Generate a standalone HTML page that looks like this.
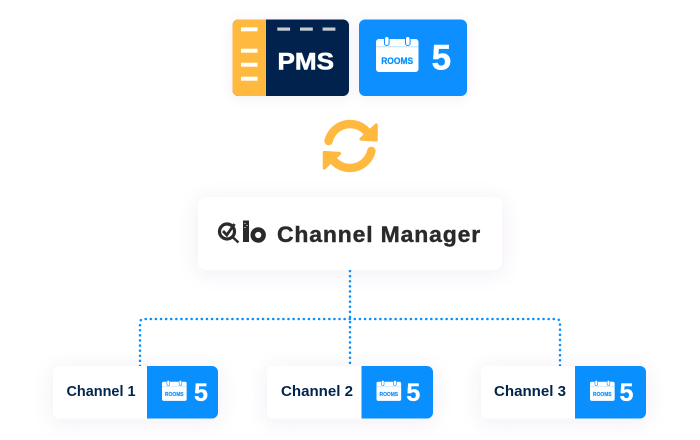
<!DOCTYPE html>
<html>
<head>
<meta charset="utf-8">
<style>
html,body{margin:0;padding:0;background:#fff;width:700px;height:440px;overflow:hidden}
svg{display:block}
text{font-family:"Liberation Sans",sans-serif;font-weight:700}
</style>
</head>
<body>
<svg width="700" height="440" viewBox="0 0 700 440" xmlns="http://www.w3.org/2000/svg">
<defs>
<filter id="s" x="-30%" y="-60%" width="160%" height="220%"><feDropShadow dx="0" dy="3" stdDeviation="10" flood-color="#5a3a6a" flood-opacity=".08"/></filter>
<filter id="s2" x="-30%" y="-30%" width="160%" height="160%"><feDropShadow dx="0" dy="2" stdDeviation="6" flood-color="#5a3a6a" flood-opacity=".07"/></filter>
<g id="cal">
<rect x="0" y="3" width="42.500" height="33" rx="3" fill="#fff"/>
<rect x="8.500" y="0.500" width="4.600" height="9" rx="2.300" fill="#fff" stroke="#0a8fff" stroke-width="1"/>
<rect x="29.500" y="0.500" width="4.600" height="9" rx="2.300" fill="#fff" stroke="#0a8fff" stroke-width="1"/>
<rect x="0" y="10.500" width="42.500" height=".7" fill="#0a8fff" opacity=".4"/>
<text x="21.200" y="27.800" font-size="9.500" text-anchor="middle" fill="#0a8fff" stroke="#0a8fff" stroke-width=".25" textLength="32" lengthAdjust="spacingAndGlyphs">ROOMS</text>
</g>
</defs>

<!-- PMS -->
<g filter="url(#s2)">
<rect x="232.500" y="19.500" width="116.500" height="76.500" rx="6" fill="#00244d"/>
</g>
<path d="M266 19.500H238.500a6 6 0 0 0-6 6V90a6 6 0 0 0 6 6H266z" fill="#ffb93e"/>
<g fill="#fff">
<rect x="241" y="27.300" width="16.500" height="4"/>
<rect x="241" y="48.700" width="16.500" height="4"/>
<rect x="241" y="62.700" width="16.500" height="4"/>
<rect x="241" y="76.700" width="16.500" height="4"/>
</g>
<g fill="#c6ccd4">
<rect x="277.300" y="27.500" width="12.800" height="3.200"/>
<rect x="300" y="27.500" width="12.800" height="3.200"/>
<rect x="322.600" y="27.500" width="12.800" height="3.200"/>
</g>
<text x="277.500" y="69.300" font-size="24" fill="#fff" stroke="#fff" stroke-width=".6" textLength="56.500" lengthAdjust="spacingAndGlyphs">PMS</text>

<!-- Rooms top -->
<g filter="url(#s2)"><rect x="359" y="19.500" width="108" height="76.500" rx="6" fill="#0a8fff"/></g>
<use href="#cal" x="376" y="36"/>
<text x="441.300" y="69.300" font-size="35" fill="#fff" stroke="#fff" stroke-width=".5" text-anchor="middle">5</text>

<!-- Sync icon -->
<g fill="none" stroke="#ffb93e" stroke-width="8.500" stroke-linecap="round">
<path d="M328.600 141A22 22 0 0 1 367 132"/>
<path d="M371.400 151A22 22 0 0 1 333 160"/>
</g>
<path d="M376.200 125V140L361 139z" fill="#ffb93e" stroke="#ffb93e" stroke-width="3.200" stroke-linejoin="round"/>
<path d="M324.300 168V152.500L339.500 153.500z" fill="#ffb93e" stroke="#ffb93e" stroke-width="3.200" stroke-linejoin="round"/>

<!-- Connectors -->
<g fill="none" stroke="#0a8fff" stroke-width="2.500" stroke-dasharray="0.1 5" stroke-linecap="round">
<path d="M350 271V366"/>
<path d="M140 366V323Q140 319 144 319H556Q560 319 560 323V366"/>
</g>

<!-- Channel Manager -->
<g filter="url(#s)"><rect x="198" y="197" width="304" height="73" rx="8" fill="#fff"/></g>
<g fill="none" stroke="#2a2a2c">
<circle cx="227" cy="231.500" r="7.500" stroke-width="3.200"/>
<path d="M233 237.500L238.500 242.500" stroke-width="2.400"/>
<path d="M223 231L226.800 235L234.500 224" stroke-width="2.800"/>
<circle cx="258.200" cy="235" r="5.400" stroke-width="4.600"/>
</g>
<rect x="243" y="220.500" width="6" height="21.500" fill="#2a2a2c"/>
<g fill="#fff"><rect x="244.500" y="223" width="1" height="1"/><rect x="246.500" y="225" width="1" height="1"/><rect x="244.500" y="227" width="1" height="1"/></g>
<text x="277" y="242" font-size="22" letter-spacing=".8" fill="#2a2a2c" stroke="#2a2a2c" stroke-width=".4" textLength="204" lengthAdjust="spacingAndGlyphs">Channel Manager</text>

<!-- Channel 1 -->
<g filter="url(#s)"><rect x="53" y="366" width="165" height="52.500" rx="6" fill="#fff"/></g>
<path d="M147 366H212a6 6 0 0 1 6 6V412.500a6 6 0 0 1-6 6H147z" fill="#0a8fff"/>
<text x="66.500" y="396" font-size="14.500" fill="#00244d" textLength="69" lengthAdjust="spacingAndGlyphs">Channel 1</text>
<use href="#cal" transform="translate(162 380) scale(.58)"/>
<text x="201" y="400.800" font-size="25" fill="#fff" stroke="#fff" stroke-width=".3" text-anchor="middle">5</text>

<!-- Channel 2 -->
<g filter="url(#s)"><rect x="267" y="366" width="166" height="52.500" rx="6" fill="#fff"/></g>
<path d="M361.500 366H427a6 6 0 0 1 6 6V412.500a6 6 0 0 1-6 6H361.500z" fill="#0a8fff"/>
<text x="281" y="396" font-size="14.500" fill="#00244d" textLength="72" lengthAdjust="spacingAndGlyphs">Channel 2</text>
<use href="#cal" transform="translate(376.500 380) scale(.58)"/>
<text x="413.300" y="400.800" font-size="25" fill="#fff" stroke="#fff" stroke-width=".3" text-anchor="middle">5</text>

<!-- Channel 3 -->
<g filter="url(#s)"><rect x="481" y="366" width="165" height="52.500" rx="6" fill="#fff"/></g>
<path d="M575 366H640a6 6 0 0 1 6 6V412.500a6 6 0 0 1-6 6H575z" fill="#0a8fff"/>
<text x="494" y="396" font-size="14.500" fill="#00244d" textLength="72" lengthAdjust="spacingAndGlyphs">Channel 3</text>
<use href="#cal" transform="translate(590 380) scale(.58)"/>
<text x="626.500" y="400.800" font-size="25" fill="#fff" stroke="#fff" stroke-width=".3" text-anchor="middle">5</text>
</svg>
</body>
</html>
